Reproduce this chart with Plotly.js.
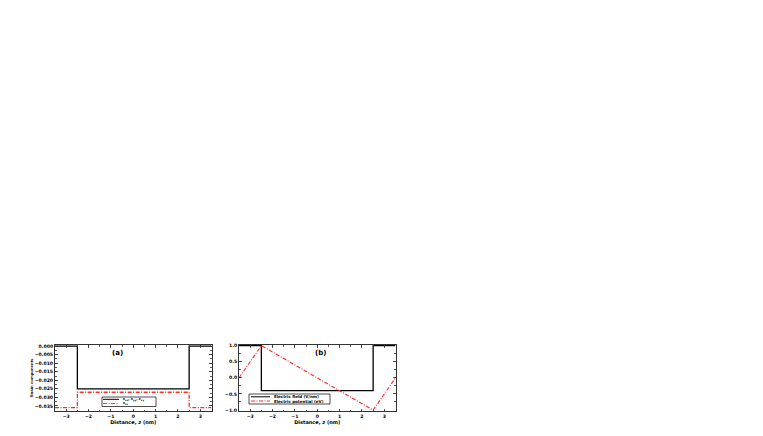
<!DOCTYPE html>
<html>
<head>
<meta charset="utf-8">
<script src="https://cdn.plot.ly/plotly-3.0.1.min.js"></script>
<style>
  body { margin: 0; background: #fff; }
  #plot { width: 763px; height: 436px; }
</style>
</head>
<body>
<div id="plot"></div>
<script>
// panel (a): strain components across the well
var zStep = [-3.5, -2.5, -2.5, 2.5, 2.5, 3.5];
var strainInPlane = [0.0, 0.0, -0.025, -0.025, 0.0, 0.0];
var strainZZ = [-0.036, -0.036, -0.027, -0.027, -0.036, -0.036];

// panel (b): electric field and potential
var fieldZ = [-3.5, -2.5, -2.5, 2.5, 2.5, 3.5];
var fieldVals = [1.0, 1.0, -0.4, -0.4, 1.0, 1.0];
var potZ = [-3.5, -2.5, 2.5, 3.5];
var potVals = [0.0, 1.0, -1.0, 0.0];

var seriesNames = ['ε<sub>xx</sub>, ε<sub>yy</sub>, ε<sub>xy</sub>', 'ε<sub>zz</sub>',
                   'Electric field (V/nm)', 'Electric potential (eV)'];

var W = 763, H = 436;
var FONT = 'DejaVu Sans';
var RED = '#ff2a2a';
var DASHDOT = '4px,1.5px,1px,1.5px';
var tickFont = { family: FONT, size: 4.6, color: '#000', weight: 'bold' };
var titleFont = { family: FONT, size: 5, color: '#000', weight: 'bold' };

// pixel helpers for the hand-drawn legend boxes
function px(x) { return x / W; }
function py(y) { return 1 - y / H; }

function xAxis(domain, anchor) {
    return {
        domain: domain, anchor: anchor, range: [-3.5, 3.5],
        tickvals: [-3, -2, -1, 0, 1, 2, 3],
        ticks: 'inside', ticklen: 2.5, tickwidth: 0.8, tickcolor: '#333',
        minor: { dtick: 0.5, ticks: 'inside', ticklen: 1.5, tickcolor: '#333' },
        showline: true, linecolor: '#333', linewidth: 1, mirror: 'allticks',
        showgrid: false, zeroline: false, tickfont: tickFont,
        title: { text: 'Distance, <i>z</i> (nm)', font: titleFont, standoff: 1 },
        automargin: false
    };
}

var data = [
    { x: zStep, y: strainInPlane, xaxis: 'x', yaxis: 'y', mode: 'lines',
      name: seriesNames[0], line: { color: '#000', width: 1.3 } },
    { x: zStep, y: strainZZ, xaxis: 'x', yaxis: 'y', mode: 'lines',
      name: seriesNames[1], line: { color: RED, width: 1.3, dash: DASHDOT } },
    { x: fieldZ, y: fieldVals, xaxis: 'x2', yaxis: 'y2', mode: 'lines',
      name: seriesNames[2], line: { color: '#000', width: 1.3 } },
    { x: potZ, y: potVals, xaxis: 'x2', yaxis: 'y2', mode: 'lines',
      name: seriesNames[3], line: { color: RED, width: 1.1, dash: DASHDOT } }
];

// legend boxes (Plotly legends can't get this compact)
var shapes = [];
var annotations = [];
function legendBox(x0, y0, x1, y1, rows) {
    shapes.push({ type: 'rect', xref: 'paper', yref: 'paper',
        x0: px(x0), x1: px(x1), y0: py(y0), y1: py(y1),
        line: { color: '#000', width: 0.7 }, fillcolor: '#fff', layer: 'above' });
    rows.forEach(function (r) {
        shapes.push({ type: 'line', xref: 'paper', yref: 'paper',
            x0: px(r.lx0), x1: px(r.lx1), y0: py(r.y), y1: py(r.y),
            line: { color: r.color, width: 1, dash: r.dash }, layer: 'above' });
        annotations.push({ text: r.text, xref: 'paper', yref: 'paper',
            x: px(r.lx1 + 2), y: py(r.y), xanchor: 'left', yanchor: 'middle',
            showarrow: false, font: { family: FONT, size: r.size, weight: 'bold', color: '#000' } });
    });
}
legendBox(102, 397, 156, 406.5, [
    { y: 399.3, lx0: 103, lx1: 119, color: '#000', dash: 'solid', text: seriesNames[0], size: 3.6 },
    { y: 403.6, lx0: 103, lx1: 119, color: RED, dash: DASHDOT, text: seriesNames[1], size: 3.6 }
]);
legendBox(249, 394, 330, 404, [
    { y: 396.8, lx0: 251, lx1: 270, color: '#000', dash: 'solid', text: seriesNames[2], size: 4 },
    { y: 401, lx0: 251, lx1: 270, color: RED, dash: DASHDOT, text: seriesNames[3], size: 4 }
]);

annotations.push({ text: '(a)', xref: 'paper', yref: 'paper', x: px(110), y: py(359),
    showarrow: false, font: { family: FONT, size: 7, weight: 'bold', color: '#000' } });
annotations.push({ text: '(b)', xref: 'paper', yref: 'paper', x: px(320), y: py(359),
    showarrow: false, font: { family: FONT, size: 7, weight: 'bold', color: '#000' } });

var layout = {
    width: W, height: H,
    margin: { l: 0, r: 0, t: 0, b: 0 },
    paper_bgcolor: '#fff', plot_bgcolor: '#fff',
    showlegend: false,
    xaxis: xAxis([px(55), px(211.5)], 'y'),
    yaxis: {
        domain: [py(411), py(345)], anchor: 'x', range: [-0.038, 0.0007],
        tickvals: [0, -0.005, -0.01, -0.015, -0.02, -0.025, -0.03, -0.035],
        tickformat: '.3f',
        ticks: 'inside', ticklen: 2.5, tickwidth: 0.8, tickcolor: '#333',
        minor: { dtick: 0.0025, ticks: 'inside', ticklen: 1.5, tickcolor: '#333' },
        showline: true, linecolor: '#333', linewidth: 1, mirror: 'allticks',
        showgrid: false, zeroline: false, tickfont: tickFont,
        title: { text: 'Strain components', standoff: 1,
                 font: { family: 'Liberation Sans', size: 4.3, weight: 'bold', color: '#000' } },
        automargin: false
    },
    xaxis2: xAxis([px(239), px(395.5)], 'y2'),
    yaxis2: {
        domain: [py(411), py(345)], anchor: 'x2', range: [-1.03, 1.02],
        tickvals: [1, 0.5, 0, -0.5, -1], tickformat: '.1f',
        ticks: 'inside', ticklen: 2.5, tickwidth: 0.8, tickcolor: '#333',
        minor: { dtick: 0.25, ticks: 'inside', ticklen: 1.5, tickcolor: '#333' },
        showline: true, linecolor: '#333', linewidth: 1, mirror: 'allticks',
        showgrid: false, zeroline: false, tickfont: tickFont,
        automargin: false
    },
    shapes: shapes,
    annotations: annotations
};

Plotly.newPlot('plot', data, layout, { displayModeBar: false, staticPlot: true });
</script>
</body>
</html>
